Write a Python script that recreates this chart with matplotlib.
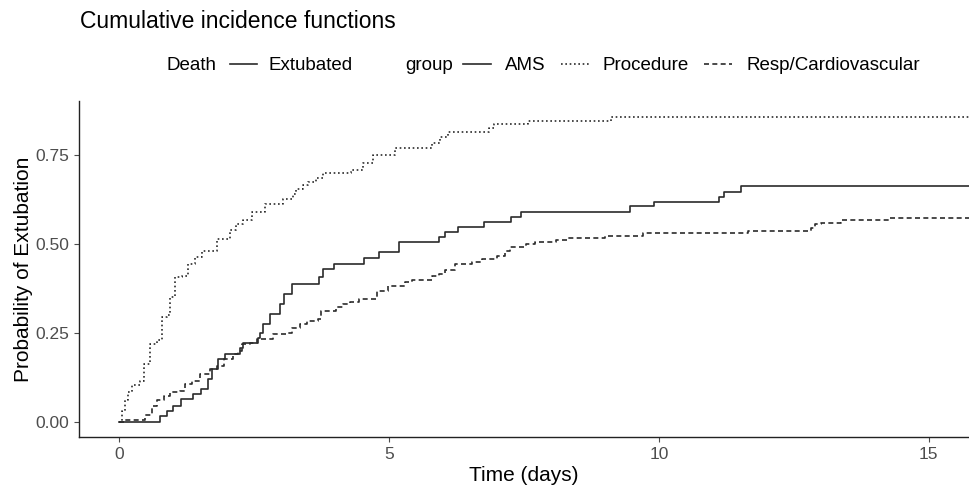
import numpy as np
import matplotlib.pyplot as plt
from matplotlib.lines import Line2D

plt.rcParams['font.family'] = ['Liberation Sans', 'DejaVu Sans']

# --- cumulative incidence of extubation ---
ams_t = [0, 0.75, 0.88, 1.0, 1.15, 1.37, 1.52, 1.65, 1.71, 1.83, 1.96, 2.23, 2.3,
         2.57, 2.6, 2.66, 2.79, 2.97, 3.06, 3.2, 3.7, 3.77, 3.98, 4.54, 4.82, 5.19,
         5.92, 6.03, 6.28, 6.76, 7.26, 7.44, 9.46, 9.91, 11.12, 11.2, 11.52, 15.8]
ams_v = [0, 0.017, 0.03, 0.045, 0.063, 0.077, 0.091, 0.12, 0.148, 0.176, 0.192, 0.209, 0.223,
         0.237, 0.251, 0.275, 0.303, 0.331, 0.36, 0.388, 0.407, 0.43, 0.444, 0.461, 0.477, 0.506,
         0.52, 0.534, 0.548, 0.562, 0.576, 0.59, 0.607, 0.619, 0.634, 0.648, 0.663, 0.663]

proc_t = [0, 0.05, 0.1, 0.15, 0.23, 0.39, 0.45, 0.57, 0.69, 0.79, 0.88, 0.94, 1.03, 1.16,
          1.28, 1.4, 1.53, 1.8, 2.05, 2.17, 2.3, 2.45, 2.7, 3.03, 3.22, 3.28, 3.4, 3.5,
          3.65, 3.77, 4.3, 4.51, 4.7, 5.1, 5.8, 5.95, 6.1, 6.85, 6.95, 7.58, 9.12, 15.8]
proc_v = [0, 0.03, 0.06, 0.085, 0.105, 0.115, 0.163, 0.218, 0.23, 0.294, 0.30, 0.35, 0.407, 0.41,
          0.444, 0.463, 0.482, 0.515, 0.539, 0.558, 0.567, 0.59, 0.614, 0.628, 0.642, 0.656, 0.666, 0.675,
          0.685, 0.699, 0.708, 0.729, 0.75, 0.771, 0.785, 0.802, 0.815, 0.826, 0.837, 0.847, 0.858, 0.858]

resp_t = [0, 0.1, 0.475, 0.6, 0.7, 0.82, 0.94, 1.13, 1.22, 1.34, 1.5, 1.68, 1.81, 1.93,
          2.11, 2.2, 2.27, 2.42, 2.55, 2.85, 3.1, 3.19, 3.35, 3.47, 3.68, 3.74, 4.02, 4.14,
          4.27, 4.45, 4.77, 4.98, 5.29, 5.42, 5.79, 5.92, 6.03, 6.23, 6.53, 6.73, 7.0, 7.14,
          7.24, 7.54, 7.7, 8.1, 8.3, 9.0, 9.7, 11.65, 12.83, 12.9, 13.0, 13.37, 14.27, 15.8]
resp_v = [0, 0.006, 0.02, 0.045, 0.06, 0.073, 0.083, 0.088, 0.107, 0.116, 0.134, 0.148, 0.158, 0.176,
          0.19, 0.2, 0.218, 0.223, 0.232, 0.246, 0.251, 0.265, 0.275, 0.284, 0.289, 0.313, 0.322, 0.331,
          0.336, 0.346, 0.369, 0.383, 0.393, 0.40, 0.41, 0.417, 0.427, 0.444, 0.449, 0.458, 0.468, 0.482,
          0.492, 0.501, 0.506, 0.512, 0.518, 0.524, 0.531, 0.537, 0.546, 0.556, 0.56, 0.567, 0.573, 0.573]

groups = ['AMS', 'Procedure', 'Resp/Cardiovascular']
styles = ['-', (0, (1, 1.6)), (0, (3, 2))]
ink = '#2b2b2b'

fig = plt.figure(figsize=(9.69, 4.95), dpi=100)
ax = fig.add_axes([0.0815, 0.117, 0.9185, 0.679])

for t, v, ls in zip([ams_t, proc_t, resp_t], [ams_v, proc_v, resp_v], styles):
    ax.step(t, v, where='post', color=ink, lw=1.2, linestyle=ls)

ax.set_xlim(-0.75, 15.75)
ax.set_ylim(-0.043, 0.903)
ax.set_xticks([0, 5, 10, 15])
ax.set_yticks([0, 0.25, 0.5, 0.75])
ax.set_yticklabels(['0.00', '0.25', '0.50', '0.75'])
ax.tick_params(labelsize=12.5, colors='#4d4d4d', length=3.5, width=0.8, pad=3.5)
for s in ['top', 'right']:
    ax.spines[s].set_visible(False)
for s in ['left', 'bottom']:
    ax.spines[s].set_linewidth(1.0)
    ax.spines[s].set_color('#222222')
ax.set_xlabel('Time (days)', fontsize=15, labelpad=3)
ax.set_ylabel('Probability of Extubation', fontsize=15, labelpad=2)

fig.text(80 / 969, 1 - 27.5 / 495, 'Cumulative incidence functions', fontsize=16.5,
         va='baseline', ha='left')

# legend row
base = 1 - 69.5 / 495
ly = 1 - 65.5 / 495
fig.text(166 / 969, base, 'Death', fontsize=13.5, va='baseline', ha='left')
fig.text(405 / 969, base, 'group', fontsize=13.5, va='baseline', ha='left')
fig.legend([Line2D([], [], color=ink, lw=1.2)], ['Extubated'],
           loc='center left', bbox_to_anchor=(230 / 969, ly), frameon=False,
           fontsize=13.5, handlelength=1.45, handletextpad=0.6, borderpad=0,
           borderaxespad=0)
hs = [Line2D([], [], color=ink, lw=1.2, linestyle=ls) for ls in styles]
fig.legend(hs, groups, loc='center left', bbox_to_anchor=(463 / 969, ly), frameon=False,
           fontsize=13.5, ncol=3, handlelength=1.5, handletextpad=0.75, columnspacing=0.8,
           borderpad=0, borderaxespad=0)

fig.savefig('out.png', dpi=100)
